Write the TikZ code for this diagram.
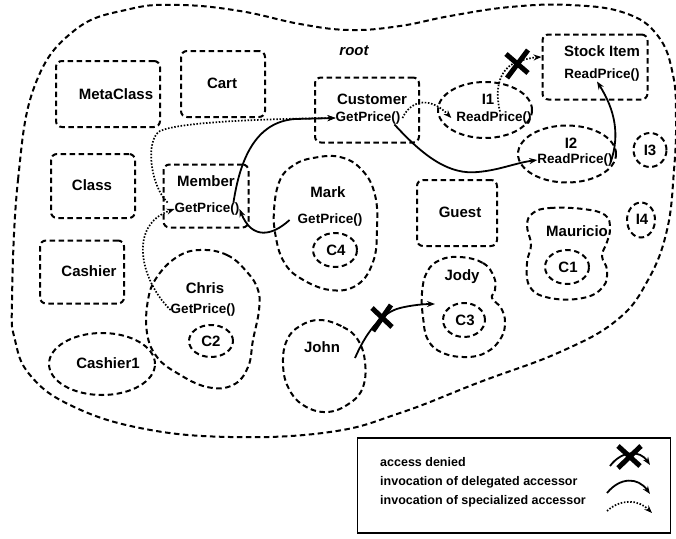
\documentclass[tikz,border=0pt]{standalone}
\usepackage{fontspec}
\setmainfont{Liberation Sans}
\usetikzlibrary{arrows.meta,shapes.geometric}
\begin{document}
\begin{tikzpicture}[x=1pt,y=-1pt,
  outline/.style={line width=2pt, dash pattern=on 5.5pt off 3.5pt},
  cls/.style={draw, outline, rounded corners=6pt, inner sep=0pt},
  obj/.style={draw, outline, ellipse, inner sep=0pt},
  lbl/.style={font=\fontsize{15}{17}\selectfont\bfseries, inner sep=0pt},
  mth/.style={font=\fontsize{13.5}{15}\selectfont\bfseries, inner sep=0pt},
  leg/.style={font=\fontsize{12.5}{14}\selectfont\bfseries, inner sep=0pt, anchor=west},
  tip/.style={-{Stealth[length=8pt,width=6pt]}},
  deleg/.style={line width=1.8pt, tip},
  spec/.style={line width=1.7pt, dash pattern=on 1.5pt off 1.7pt, tip},
  deny/.style={line width=5pt}
]
\useasboundingbox (0,0) rectangle (676,538);

% the root environment
\draw[outline] plot[smooth cycle, tension=0.7] coordinates {
  (12,300) (18,180) (35,85) (75,30) (130,9) (180,5) (240,11) (300,24)
  (350,30) (400,26) (450,16) (510,7) (570,5) (625,13) (658,36) (673,75)
  (676,120) (674,170) (667,230) (648,280) (617,320) (560,352) (480,382)
  (400,413) (330,432) (230,437) (140,428) (70,405) (30,375) (15,340)};
\node[lbl, font=\fontsize{15}{17}\selectfont\bfseries\itshape] (rootLbl) at (354,51) {root};

% classes
\node[cls, minimum width=104pt, minimum height=66pt] (metaBox) at (108,94) {};
\node[lbl] (metaLbl) at (116,94) {MetaClass};
\node[cls, minimum width=84pt, minimum height=66pt] (cartBox) at (223,84) {};
\node[lbl] (cartLbl) at (222,83) {Cart};
\node[cls, minimum width=84pt, minimum height=64pt] (classBox) at (93,186) {};
\node[lbl] (classLbl) at (92,185) {Class};
\node[cls, minimum width=84pt, minimum height=63pt] (cashBox) at (82,272) {};
\node[lbl] (cashLbl) at (89,271) {Cashier};
\node[cls, minimum width=80pt, minimum height=66pt] (guestBox) at (457,213) {};
\node[lbl] (guestLbl) at (460,212) {Guest};
\node[cls, minimum width=104pt, minimum height=65pt] (custBox) at (367,110) {};
\node[lbl] (custLbl) at (372,99) {Customer};
\node[mth] (custGP) at (368,118) {GetPrice()};
\node[cls, minimum width=85pt, minimum height=63pt] (memBox) at (206,196) {};
\node[lbl] (memLbl) at (206,181) {Member};
\node[mth] (memGP) at (207,209) {GetPrice()};
\node[cls, minimum width=105pt, minimum height=65pt] (stockBox) at (595,67) {};
\node[lbl] (stockLbl) at (602,51) {Stock Item};
\node[mth] (stockRP) at (602,75) {ReadPrice()};

% instances
\node[obj, minimum width=94pt, minimum height=56pt] (i1) at (485,110) {};
\node[lbl] (i1Lbl) at (488,99) {I1};
\node[mth] (i1RP) at (494,118) {ReadPrice()};
\node[obj, minimum width=98pt, minimum height=57pt] (i2) at (567,154) {};
\node[lbl] (i2Lbl) at (571,143) {I2};
\node[mth] (i2RP) at (575,160) {ReadPrice()};
\node[obj, minimum width=33pt, minimum height=34pt] (i3) at (650,150) {};
\node[lbl] (i3Lbl) at (650,150) {I3};
\node[obj, minimum width=28pt, minimum height=35pt] (i4) at (641,220) {};
\node[lbl] (i4Lbl) at (642,219) {I4};
\node[obj, minimum width=106pt, minimum height=62pt] (cash1) at (102,364) {};
\node[lbl] (cash1Lbl) at (108,363) {Cashier1};

% persons and their carts
\draw[outline] plot[smooth cycle, tension=0.7] coordinates {
  (313,158) (340,157) (362,170) (375,195) (377,230) (373,262) (357,285)
  (330,290) (300,278) (284,262) (276,238) (274,210) (280,180) (294,165)};
\node[lbl] (markLbl) at (328,192) {Mark};
\node[mth] (markGP) at (330,220) {GetPrice()};
\node[obj, minimum width=44pt, minimum height=34pt] (c4) at (335,250) {};
\node[lbl] (c4Lbl) at (336,250) {C4};

\draw[outline] plot[smooth cycle, tension=0.7] coordinates {
  (200,250) (227,255) (247,272) (258,290) (259,310) (253,340) (248,367)
  (233,385) (207,387) (177,373) (157,357) (147,333) (148,300) (157,277) (177,257)};
\node[lbl] (chrisLbl) at (205,288) {Chris};
\node[mth] (chrisGP) at (203,310) {GetPrice()};
\node[obj, minimum width=44pt, minimum height=32pt] (c2) at (211,341) {};
\node[lbl] (c2Lbl) at (211,341) {C2};

\draw[outline] plot[smooth cycle, tension=0.7] coordinates {
  (460,257) (483,263) (494,277) (495,290) (492,298) (501,308) (505,322)
  (501,338) (487,352) (467,357) (443,353) (428,340) (423,317) (422,293)
  (427,272) (440,260)};
\node[lbl] (jodyLbl) at (462,277) {Jody};
\node[obj, minimum width=42pt, minimum height=34pt] (c3) at (464,320) {};
\node[lbl] (c3Lbl) at (465,320) {C3};

\draw[outline] plot[smooth cycle, tension=0.7] coordinates {
  (320,320) (343,327) (358,340) (365,362) (363,387) (350,403) (327,412)
  (303,405) (288,387) (283,363) (287,340) (300,326)};
\node[lbl] (johnLbl) at (322,347) {John};

\draw[outline] plot[smooth cycle, tension=0.7] coordinates {
  (533,213) (550,208) (583,209) (605,215) (610,228) (607,242) (602,256)
  (607,270) (603,287) (583,298) (550,298) (530,287) (527,263) (531,245) (527,225)};
\node[lbl] (maurLbl) at (577,231) {Mauricio};
\node[obj, minimum width=44pt, minimum height=34pt] (c1) at (567,267) {};
\node[lbl] (c1Lbl) at (568,267) {C1};

% accessor invocations
\draw[spec] (chrisGP.west) .. controls (140,280) and (128,225) .. (memGP.west);
\draw[spec] ([xshift=-7pt]memGP.north west) .. controls (150,185) and (145,140) .. (160,131)
  .. controls (180,122) and (260,119) .. (custGP.west);
\draw[deleg] ([xshift=-8pt]markGP.west) .. controls (272,236) and (252,240) .. (memGP.east);
\draw[deleg] ([xshift=-6pt]memGP.north east) .. controls (240,160) and (255,122) .. (295,119)
  -- (custGP.west);
\draw[spec] ([xshift=2pt]custGP.east) .. controls (412,98) and (432,98) .. ([xshift=-5pt]i1RP.west);
\draw[deleg] ([xshift=-6pt]custGP.south east) .. controls (425,158) and (450,175) .. (478,172)
  .. controls (500,170) and (515,163) .. (i2RP.west);
\draw[spec] ([xshift=6pt]i1RP.north) .. controls (494,88) and (500,68) .. (517,62)
  .. controls (525,59) and (533,57.5) .. ([yshift=10pt]stockBox.west);
\draw[deleg] ([xshift=-2pt,yshift=-2pt]i2RP.east) .. controls (620,135) and (615,110) .. ([xshift=-5pt]stockRP.south);
\coordinate (johnSrc) at (355,358);
\coordinate (jodyDst) at (435,304);
\draw[deleg] (johnSrc) .. controls (365,335) and (380,313) .. (400,308)
  .. controls (412,305) and (425,304) .. (jodyDst);

% denied accesses
\draw[deny] (506,54) -- (528,73) (528,50) -- (507,78);
\draw[deny] (372,308) -- (392,327) (391,305) -- (373,331);

% legend
\node[draw, line width=1.2pt, minimum width=313pt, minimum height=95pt, inner sep=0pt] (legBox) at (514,485.5) {};
\node[leg] (legDeny) at (380,462) {access denied};
\node[leg] (legDeleg) at (380,482) {invocation of delegated accessor};
\node[leg] (legSpec) at (380,501) {invocation of specialized accessor};
\coordinate (denyA) at (610,466);
\coordinate (denyB) at (650,465);
\draw[deleg] (denyA) .. controls (622,450) and (640,450) .. (denyB);
\draw[deny] (618,446) -- (640,466) (641,446) -- (618,468);
\coordinate (delegA) at (607,493);
\coordinate (delegB) at (650,494);
\draw[deleg] (delegA) .. controls (620,477) and (638,477) .. (delegB);
\coordinate (specA) at (607,511);
\coordinate (specB) at (652,513);
\draw[spec] (specA) .. controls (620,499) and (638,499) .. (specB);
\end{tikzpicture}
\end{document}
